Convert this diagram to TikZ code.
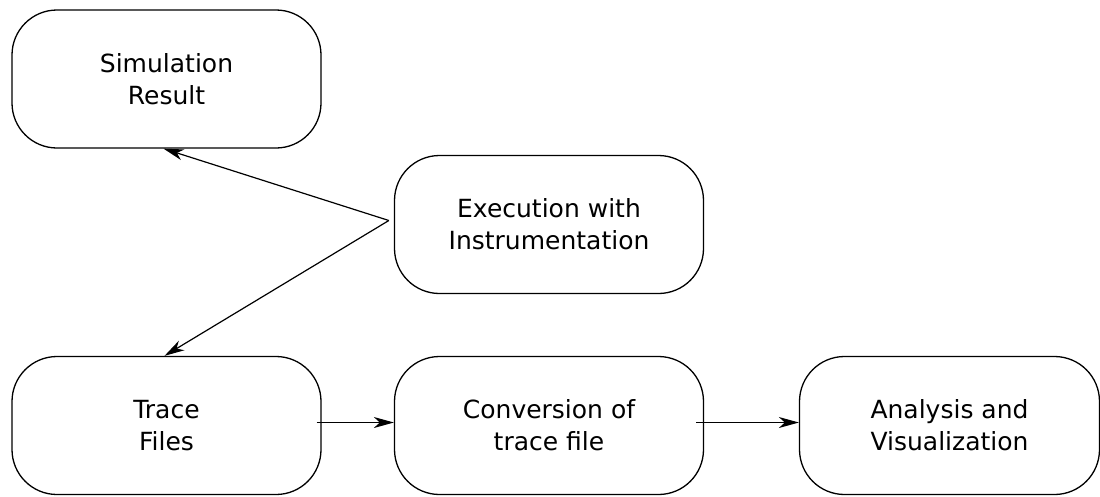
\documentclass[tikz,border=0pt]{standalone}
\usepackage{fontspec}
\setmainfont{DejaVu Sans}
\usetikzlibrary{arrows.meta}
\begin{document}
\begin{tikzpicture}[x=1pt,y=-1pt,
  box/.style={draw, line width=1.3pt, rounded corners=45pt,
    minimum width=309pt, minimum height=138pt, inner sep=0pt,
    align=center, font=\fontsize{25}{32}\selectfont},
  arr/.style={line width=1.2pt, -{Stealth[length=20pt,width=11pt,inset=6pt]}}]
\useasboundingbox (0,0) rectangle (1100,496);

% process stages
\node[box] (sim)   at (166.5,79)    {Simulation\\Result};
\node[box] (exec)  at (549,224.5)   {Execution with\\Instrumentation};
\node[box] (trace) at (166.5,425.5) {Trace\\Files};
\node[box] (conv)  at (549,425.5)   {Conversion of\\trace file};
\node[box, minimum width=300pt] (ana) at (949.5,425.5) {Analysis and\\Visualization};

% execution produces both outputs
\coordinate (fork) at ([shift={(-5,-4)}]exec.west);
\draw[arr] (fork) -- ([xshift=-3pt]sim.south);
\draw[arr] (fork) -- ([xshift=-2pt]trace.north);

% trace processing chain
\draw[arr] ([shift={(-5,-3)}]trace.east) -- ([shift={(0,-3)}]conv.west);
\draw[arr] ([shift={(-8,-3)}]conv.east) -- ([shift={(0,-3)}]ana.west);
\end{tikzpicture}
\end{document}
